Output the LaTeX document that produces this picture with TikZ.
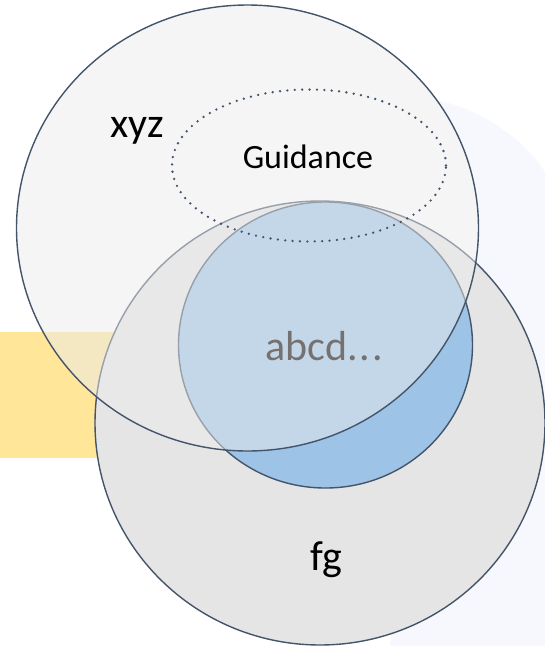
\documentclass[tikz,border=0pt]{standalone}
\usepackage{fontspec}
\setmainfont{Carlito}
\usetikzlibrary{shapes.geometric, positioning}
\definecolor{setline}{HTML}{44546A}
\definecolor{setgray}{HTML}{E5E5E5}
\definecolor{setblue}{HTML}{9DC3E6}
\definecolor{setpale}{HTML}{EBEBEB}
\definecolor{bandyellow}{HTML}{FFE699}
\definecolor{haze}{HTML}{F6F8FD}
\definecolor{textgray}{HTML}{767171}
\tikzset{
    venn/.style={ellipse, draw=setline, line width=1.4pt, inner sep=0pt}, % outline of every set
    hint/.style={ellipse, draw=setline, line width=2.6pt, line cap=round,
        dash pattern=on 0pt off 7.4pt, inner sep=0pt}, % the dotted region
    big label/.style={font=\fontsize{42}{50}\selectfont, anchor=base},
    small label/.style={font=\fontsize{34}{40}\selectfont, anchor=base},
}

\begin{document}
\begin{tikzpicture}[x=1pt, y=-1pt]
    \useasboundingbox (0,0) rectangle (545,646);

    % background
    \fill[bandyellow] (0,332) rectangle (545,458);
    \begin{scope}[even odd rule]
        \clip (0,0) rectangle (545,646)
            (247.5,228) ellipse [x radius=231, y radius=223];
        \fill[haze] (435,100) .. controls (480,108) and (525,140) .. (545,172)
            -- (545,646) -- (390,646) -- cycle;
    \end{scope}

    % sets
    \node[venn, fill=setgray, minimum width=450pt, minimum height=444pt] (fg) at (320,423) {};
    \node[venn, fill=setblue, minimum width=294pt, minimum height=286pt] (abcd) at (325.5,345) {};
    \node[venn, fill=setpale, fill opacity=0.5, minimum width=462pt, minimum height=446pt] (xyz) at (247.5,228) {};
    \node[hint, minimum width=274pt, minimum height=152pt] (guide) at (309,165.5) {};

    % labels
    \node[big label] (xyzlabel) at (137,137) {xyz};
    \node[small label] (guidelabel) at (308,168) {Guidance};
    \node[big label, text=textgray] (abcdlabel) at (324,360.5) {abcd.\kern2pt.\kern2pt.};
    \node[big label] (fglabel) at (326.5,570) {fg};
\end{tikzpicture}
\end{document}
